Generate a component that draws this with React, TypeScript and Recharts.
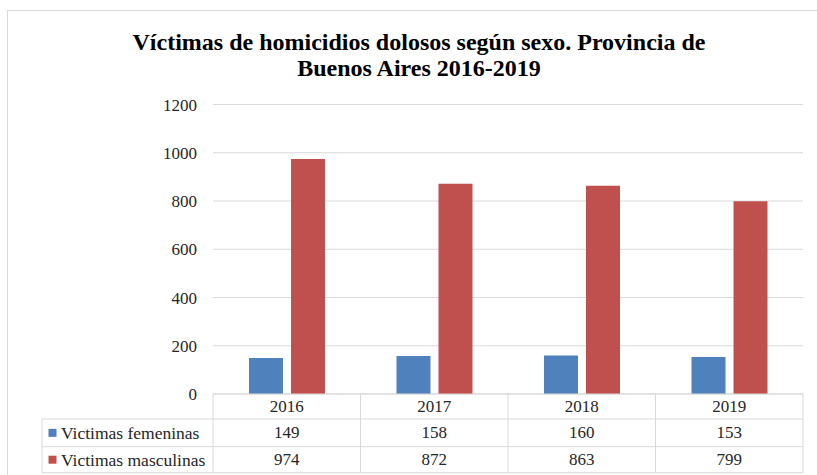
import { BarChart, Bar, XAxis, YAxis, CartesianGrid } from 'recharts';

// Datos
const YEARS = ['2016', '2017', '2018', '2019'];
const FEMENINAS = [149, 158, 160, 153];
const MASCULINAS = [974, 872, 863, 799];
const Y_TICKS = [0, 200, 400, 600, 800, 1000, 1200];
const SERIES = [
  { key: 'femeninas', label: 'Victimas femeninas', color: '#4f81bd', values: FEMENINAS },
  { key: 'masculinas', label: 'Victimas masculinas', color: '#c0504d', values: MASCULINAS },
];
const TITLE = ['Víctimas de homicidios dolosos según sexo. Provincia de', 'Buenos Aires 2016-2019'];

const data = YEARS.map((year, i) => ({ year, femeninas: FEMENINAS[i], masculinas: MASCULINAS[i] }));

const FONT = 'Liberation Serif, Times New Roman, serif';
const GRID = '#d9d9d9';
const TEXT = '#262626';
const PLOT_W = 590;
const LEGEND_W = 171;
const ROWS = [0, 25, 52.7, 78.7]; // bordes de filas de la tabla, relativos al eje
const txt = { fontFamily: FONT, fontSize: 17 };

// Tabla de datos dibujada en cada tick del eje X
const TableTick = (props: any) => {
  const { x, y, payload, index } = props;
  const band = PLOT_W / YEARS.length;
  const left = x - band / 2;
  const right = x + band / 2;
  const rowMid = (r: number) => y + (ROWS[r] + ROWS[r + 1]) / 2;
  const legLeft = left - LEGEND_W;

  return (
    <g>
      {ROWS.map((r, i) => (
        <line key={'h' + i} x1={left} x2={right} y1={y + r} y2={y + r} stroke={GRID} />
      ))}
      <line x1={left} x2={left} y1={y} y2={y + ROWS[3]} stroke={GRID} />
      {index === YEARS.length - 1 && (
        <line x1={right} x2={right} y1={y} y2={y + ROWS[3]} stroke={GRID} />
      )}
      <text x={x} y={rowMid(0)} textAnchor="middle" dominantBaseline="central" fill={TEXT} style={txt}>
        {payload.value}
      </text>
      {SERIES.map((s, i) => (
        <text key={s.key} x={x} y={rowMid(i + 1)} textAnchor="middle" dominantBaseline="central" fill={TEXT} style={txt}>
          {s.values[index]}
        </text>
      ))}
      {index === 0 && (
        <g>
          {ROWS.slice(1).map((r, i) => (
            <line key={'lh' + i} x1={legLeft} x2={left} y1={y + r} y2={y + r} stroke={GRID} />
          ))}
          <line x1={legLeft} x2={legLeft} y1={y + ROWS[1]} y2={y + ROWS[3]} stroke={GRID} />
          {SERIES.map((s, i) => (
            <g key={'lg' + s.key}>
              <rect x={legLeft + 6.5} y={rowMid(i + 1) - 4} width={8} height={8} fill={s.color} />
              <text x={legLeft + 19} y={rowMid(i + 1)} dominantBaseline="central" fill={TEXT} style={{ ...txt, fontSize: 17.5 }}>
                {s.label}
              </text>
            </g>
          ))}
        </g>
      )}
    </g>
  );
};

export default function App() {
  return (
    <div style={{ position: 'absolute', left: 0, top: 0, width: 817, height: 475, background: '#fff', overflow: 'hidden' }}>
      <div style={{ position: 'absolute', left: 7, top: 10, width: 830, height: 480, border: '1px solid ' + GRID, boxSizing: 'border-box' }} />
      {TITLE.map((line, i) => (
        <div
          key={i}
          style={{
            position: 'absolute',
            left: 0,
            top: 30 + i * 26,
            width: 838,
            textAlign: 'center',
            fontFamily: FONT,
            fontWeight: 'bold',
            fontSize: 24,
            lineHeight: '24px',
            color: '#000',
            whiteSpace: 'nowrap',
          }}
        >
          {line}
        </div>
      ))}
      <div style={{ position: 'absolute', left: 0, top: 0 }}>
        <BarChart
          width={817}
          height={475}
          data={data}
          margin={{ top: 104.5, right: 14, bottom: 0, left: 0 }}
          barSize={34}
          barGap={8}
        >
          <CartesianGrid vertical={false} stroke={GRID} />
          <YAxis
            width={213}
            domain={[0, 1200]}
            ticks={Y_TICKS}
            axisLine={false}
            tickLine={false}
            tickSize={0}
            tickMargin={16}
            tick={{ fontFamily: FONT, fontSize: 17, fill: TEXT, style: txt }}
          />
          <XAxis
            dataKey="year"
            height={81}
            axisLine={false}
            tickLine={false}
            tickSize={0}
            tickMargin={0}
            interval={0}
            tick={<TableTick />}
          />
          <Bar dataKey="femeninas" fill="#4f81bd" isAnimationActive={false} />
          <Bar dataKey="masculinas" fill="#c0504d" isAnimationActive={false} />
        </BarChart>
      </div>
    </div>
  );
}
